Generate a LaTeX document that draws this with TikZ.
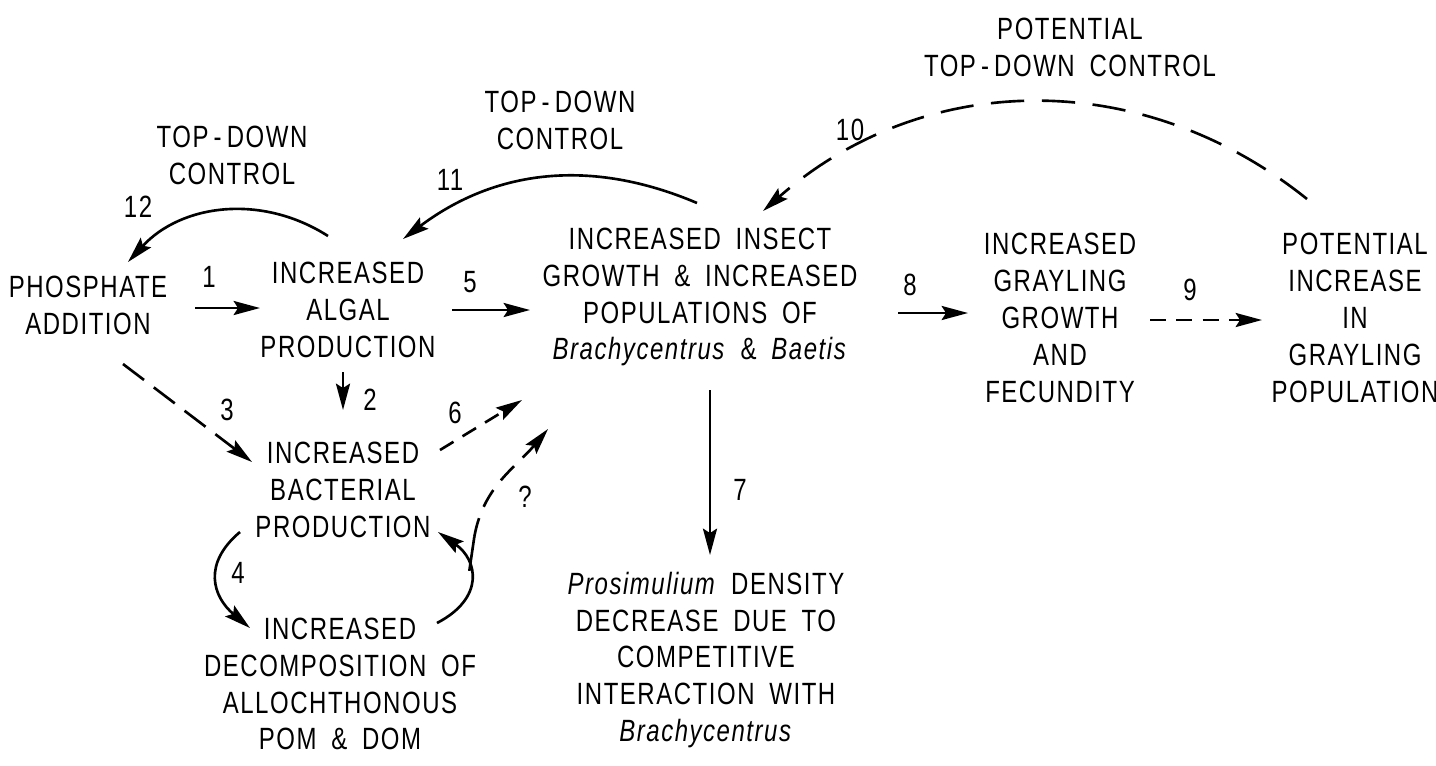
\documentclass[tikz,border=0pt]{standalone}
\usepackage{fontspec}
\setmainfont{Liberation Sans}[FakeStretch=0.78,LetterSpace=5,WordSpace=1.8]
\usetikzlibrary{arrows.meta}

\begin{document}
\begin{tikzpicture}[x=0.02cm,y=0.02cm,
    box/.style ={align=center, inner sep=0pt, font=\fontsize{17.5}{21}\selectfont},
    num/.style ={inner sep=0pt, font=\fontsize{17.5}{21}\selectfont},
    arr/.style ={line width=1.5pt, -{Stealth[length=15pt,width=8pt,inset=2.5pt]}},
    darr/.style={arr, dash pattern=on 9pt off 6pt},
    larr/.style={arr, dash pattern=on 19pt off 10pt}]
   \useasboundingbox (0,0) rectangle (1436,-765);
   % boxes
   \node[box] (phos)   at (88,-305)   {PHOSPHATE\\ADDITION};
   \node[box] (algal)  at (348,-310)  {INCREASED\\ALGAL\\PRODUCTION};
   \node[box] (insect) at (700,-297)  {INCREASED INSECT\\GROWTH \& INCREASED\\POPULATIONS OF\\\textit{Brachycentrus} \& \textit{Baetis}};
   \node[box] (gray)   at (1060,-318) {INCREASED\\GRAYLING\\GROWTH\\AND\\FECUNDITY};
   \node[box] (pot)    at (1355,-318) {POTENTIAL\\INCREASE\\IN\\GRAYLING\\POPULATION};
   \node[box] (bact)   at (343,-490)  {INCREASED\\BACTERIAL\\PRODUCTION};
   \node[box] (decomp) at (340,-684)  {INCREASED\\DECOMPOSITION OF\\ALLOCHTHONOUS\\POM \& DOM};
   \node[box] (pros)   at (706,-660)  {\textit{Prosimulium} DENSITY\\DECREASE DUE TO\\COMPETITIVE\\INTERACTION WITH\\\textit{Brachycentrus}};
   \node[box] (tdc1)   at (232,-155)  {TOP\,-\,DOWN\\CONTROL};
   \node[box] (tdc2)   at (560,-120)  {TOP\,-\,DOWN\\CONTROL};
   \node[box] (ptdc)   at (1070,-47)  {POTENTIAL\\TOP\,-\,DOWN CONTROL};
   % numbers
   \node[num] (n1)  at (209,-277) {1};
   \node[num] (n2)  at (370,-400) {2};
   \node[num] (n3)  at (227,-410) {3};
   \node[num] (n4)  at (238,-573) {4};
   \node[num] (n5)  at (470,-282) {5};
   \node[num] (n6)  at (455,-413) {6};
   \node[num] (n7)  at (740,-490) {7};
   \node[num] (n8)  at (910,-285) {8};
   \node[num] (n9)  at (1190,-290) {9};
   \node[num] (n10) at (850,-130) {10};
   \node[num] (n11) at (450,-180) {11};
   \node[num] (n12) at (138,-207) {12};
   \node[num] (nq)  at (525,-497) {?};
   % arrows
   \draw[arr] ([shift={(107,-3)}]phos.center) -- ([shift={(-88,2)}]algal.center);
   \draw[arr] ([shift={(104,0)}]algal.center) -- ([shift={(-170,-13)}]insect.center);
   \draw[arr] ([shift={(198,-16)}]insect.center) -- ([shift={(-92,5)}]gray.center);
   \draw[darr] ([shift={(90,-2)}]gray.center) -- ([shift={(-93,-2)}]pot.center);
   \draw[arr] ([shift={(-5,-62)}]algal.center) -- ([shift={(0,80)}]bact.center);
   \draw[darr, dash pattern=on 15pt off 7pt] ([shift={(35,-59)}]phos.center) -- ([shift={(-91,28)}]bact.center);
   \draw[darr] ([shift={(97,40)}]bact.center) -- ([shift={(-178,-103)}]insect.center);
   \draw[arr] ([shift={(10,-93)}]insect.center) -- ([shift={(4,105)}]pros.center);
   \draw[arr] ([shift={(-103,-42)}]bact.center) to [out=220,in=140,looseness=1.3] ([shift={(-90,56)}]decomp.center);
   \draw[arr] ([shift={(97,61)}]decomp.center) .. controls +(48,25) and +(40,-28) ..
      coordinate[pos=0.58] (fork) ([shift={(95,-42)}]bact.center);
   \draw[line width=1.5pt] (fork) -- ++(5,34) coordinate (qstart);
   \draw[darr, dash pattern=on 11pt off 7pt] (qstart) to [out=80,in=230] ([shift={(-152,-132)}]insect.center);
   \draw[arr] ([shift={(-20,74)}]algal.center) to [bend right=40] ([shift={(40,43)}]phos.center);
   \draw[arr] ([shift={(-3,94)}]insect.center) to [bend right=30] ([shift={(55,71)}]algal.center);
   \draw[larr] ([shift={(-48,119)}]pot.center) to [bend right=40] ([shift={(63,86)}]insect.center);
\end{tikzpicture}
\end{document}
